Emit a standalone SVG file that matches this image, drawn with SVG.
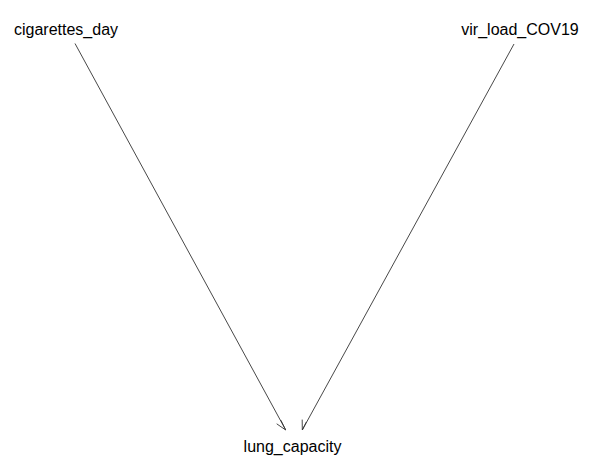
<svg xmlns="http://www.w3.org/2000/svg" width="592" height="476" viewBox="0 0 592 476">
<style>
.lbl{font-family:"Liberation Sans",Arial,sans-serif;font-size:16px;fill:#000;text-anchor:middle}
.edge{stroke:#333;stroke-width:0.9;fill:none}
</style>
<rect width="592" height="476" fill="#fff"/>
<g id="connectors">
<path class="edge" d="M75,43.5 L285.7,430"/>
<path class="edge" d="M280.9,420.2 L285.7,430 L276.7,423.8" transform=""/>
<path class="edge" d="M514,44 L302.3,430"/>
<path class="edge" d="M302.2,419.6 L302.3,430 L306.4,421.9"/>
</g>
<g id="cigarettes_day"><text class="lbl" x="66" y="35">cigarettes_day</text></g>
<g id="vir_load_COV19"><text class="lbl" x="520" y="35">vir_load_COV19</text></g>
<g id="lung_capacity"><text class="lbl" x="292.5" y="452">lung_capacity</text></g>
</svg>
